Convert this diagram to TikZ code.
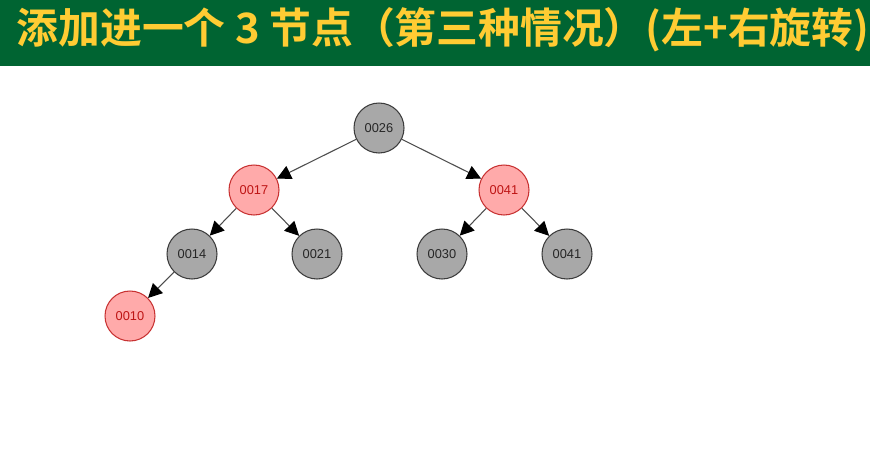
\documentclass[tikz,border=0pt]{standalone}
\usepackage{fontspec}
\usepackage{tikz}
\usetikzlibrary{arrows.meta,positioning}
\newfontfamily\cjk{Noto Sans CJK SC}[BoldFont={Noto Sans CJK SC Bold}]
\newfontfamily\keyfont{Liberation Sans}
\definecolor{headgreen}{RGB}{0,100,50}
\definecolor{headyellow}{RGB}{255,204,51}
\definecolor{blackfill}{RGB}{168,168,168}
\definecolor{blackline}{RGB}{60,60,60}
\definecolor{redfill}{RGB}{255,170,170}
\definecolor{redline}{RGB}{200,50,50}
\definecolor{redtext}{RGB}{190,20,20}
\tikzset{
	rbnode/.style={circle,minimum size=1cm,inner sep=0pt,line width=0.6pt,font=\keyfont\fontsize{7.3}{8}\selectfont},
	blacknode/.style={rbnode,fill=blackfill,draw=blackline,text=black!85},
	rednode/.style={rbnode,fill=redfill,draw=redline,text=redtext},
	link/.style={-{Triangle[length=8pt,width=8pt,black]},draw=black!70,line width=0.6pt}
}
\begin{document}
\begin{tikzpicture}[x=0.02cm,y=-0.02cm]
	\useasboundingbox (0,0) rectangle (870,471);
	\fill [white] (0,0) rectangle (870,471);
	\fill [headgreen] (0,0) rectangle (870,66);
	\node (title) at (443,30) [text=headyellow,font=\cjk\bfseries\fontsize{23.8}{24}\selectfont] {添加进一个 3 节点（第三种情况）(左+右旋转)};
	\node (n26) at (379,128) [blacknode] {0026};
	\node (n17) at (254,190) [rednode] {0017};
	\node (n41) at (504,190) [rednode] {0041};
	\node (n14) at (192,254) [blacknode] {0014};
	\node (n21) at (317,254) [blacknode] {0021};
	\node (n30) at (442,254) [blacknode] {0030};
	\node (n41b) at (567,254) [blacknode] {0041};
	\node (n10) at (130,316) [rednode] {0010};
	\draw [link] (n26) -- (n17);
	\draw [link] (n26) -- (n41);
	\draw [link] (n17) -- (n14);
	\draw [link] (n17) -- (n21);
	\draw [link] (n41) -- (n30);
	\draw [link] (n41) -- (n41b);
	\draw [link] (n14) -- (n10);
\end{tikzpicture}
\end{document}
